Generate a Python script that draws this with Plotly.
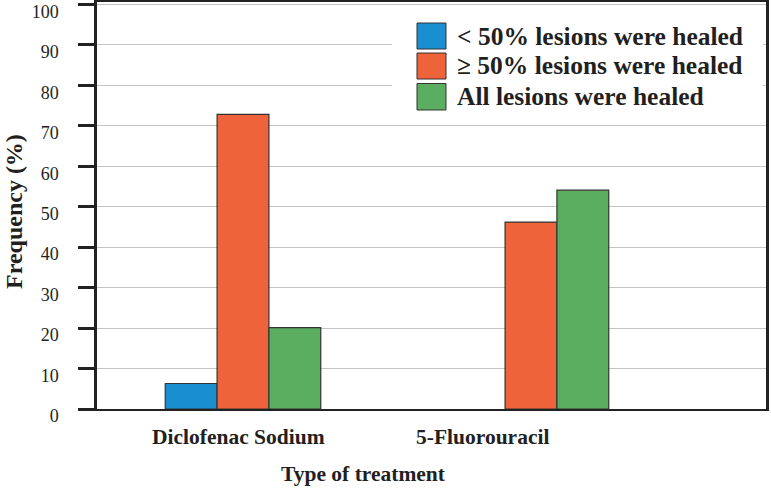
import plotly.graph_objects as go

categories = ["Diclofenac Sodium", "5-Fluorouracil"]
series_names = ["< 50% lesions were healed", "≥ 50% lesions were healed", "All lesions were healed"]
below_50 = [6.3, None]
above_50 = [72.8, 46.2]
all_healed = [20.1, 54.1]
y_ticks = [0, 10, 20, 30, 40, 50, 60, 70, 80, 90, 100]

colors = ["#1a8fd0", "#ef633b", "#5bad5f"]
FONT = "Liberation Serif"
TXT = "#231f20"
W, H = 771, 489
L, R, T, B = 97, 5, 2, 80

def px(x):
    return (x - L) / (W - L - R)

def py(y):
    return (H - B - y) / (H - B - T)

fig = go.Figure()
for name, vals, col in zip(series_names, [below_50, above_50, all_healed], colors):
    fig.add_trace(go.Bar(x=categories, y=vals, name=name,
                         marker=dict(color=col, line=dict(color="#333333", width=1.2)),
                         showlegend=False))

shapes = []
annotations = []
# legend background covering gridlines
shapes.append(dict(type="rect", xref="paper", yref="paper", x0=px(392), x1=px(763), y0=py(115), y1=py(5),
                   fillcolor="white", line=dict(width=0), layer="above"))
rows = [(23, 49), (53, 79), (83.5, 110)]
for (y0, y1), name, col in zip(rows, series_names, colors):
    shapes.append(dict(type="rect", xref="paper", yref="paper", x0=px(417), x1=px(446), y0=py(y1), y1=py(y0),
                       fillcolor=col, line=dict(color="#333333", width=1), layer="above"))
    annotations.append(dict(text="<b>%s</b>" % name, xref="paper", yref="paper", x=px(455), y=py((y0 + y1) / 2),
                            xanchor="left", yanchor="middle", showarrow=False,
                            font=dict(family=FONT, size=25.5, color=TXT)))

# category labels
shifts = [-5, -49]
for cat, s in zip(categories, shifts):
    annotations.append(dict(text="<b>%s</b>" % cat, xref="x", yref="paper", x=cat, y=py(437), xshift=s,
                            xanchor="center", yanchor="middle", showarrow=False,
                            font=dict(family=FONT, size=21.5, color=TXT)))
# axis titles
annotations.append(dict(text="<b>Type of treatment</b>", xref="paper", yref="paper", x=px(363), y=py(474),
                        xanchor="center", yanchor="middle", showarrow=False,
                        font=dict(family=FONT, size=21.5, color=TXT)))
annotations.append(dict(text="<b>Frequency (%)</b>", xref="paper", yref="paper", x=px(14), y=py(212),
                        xanchor="center", yanchor="middle", showarrow=False, textangle=-90,
                        font=dict(family=FONT, size=24, color=TXT)))

fig.update_layout(
    width=W, height=H,
    margin=dict(l=L, r=R, t=T, b=B),
    paper_bgcolor="white", plot_bgcolor="white",
    barmode="group", bargap=0.46, bargroupgap=0,
    shapes=shapes, annotations=annotations,
    xaxis=dict(range=[-0.507, 1.816], showticklabels=False, ticks="", showgrid=False, automargin=False,
               showline=True, linecolor="#222222", linewidth=2, mirror=True, zeroline=False),
    yaxis=dict(range=[0, 100.6], tickvals=y_ticks, ticks="outside", ticklen=16, tickwidth=3, tickcolor="#222222",
               showgrid=True, gridcolor="#c4c4c4", gridwidth=1, automargin=False,
               showline=True, linecolor="#222222", linewidth=2.5, mirror=True, zeroline=False,
               tickfont=dict(family=FONT, size=18, color=TXT), ticklabelstandoff=16, ticklabelshift=7,
               ticklabeloverflow="allow", tickprefix="<b>", ticksuffix="</b>"),
)
fig.write_html("out.html", config={"displayModeBar": False},
               post_script="document.body.style.margin='0';document.body.style.overflow='hidden';")
